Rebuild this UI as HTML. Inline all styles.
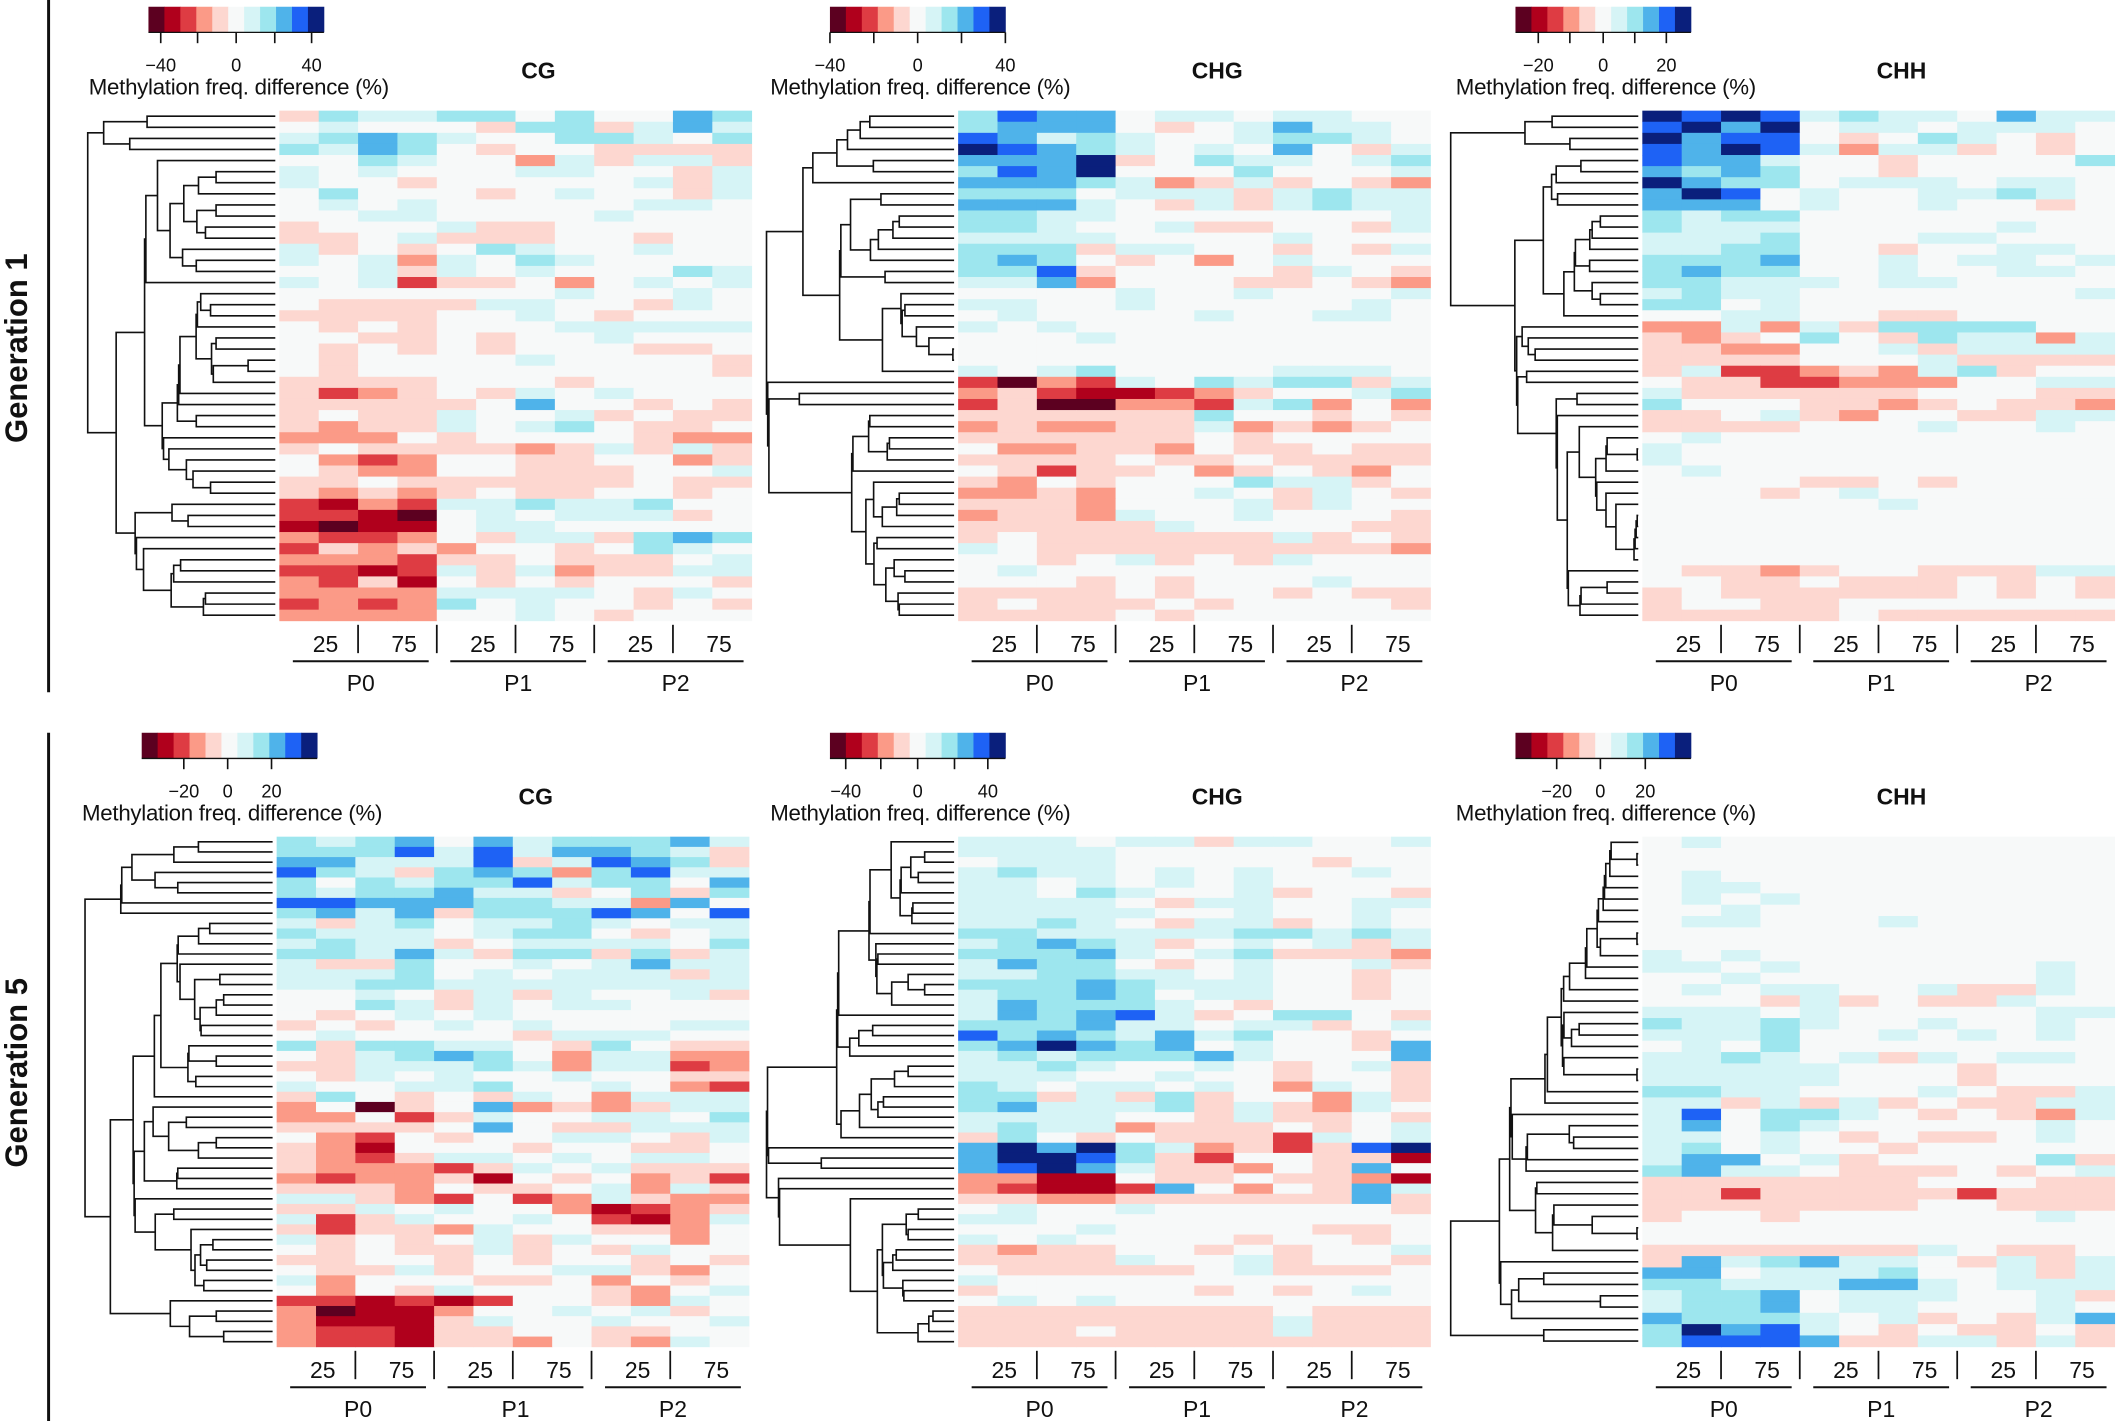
<!DOCTYPE html>
<html><head><meta charset="utf-8">
<style>
html,body{margin:0;padding:0;background:#fff;}
svg{display:block;}
text{font-family:"Liberation Sans",Arial,sans-serif;fill:#111;}
</style></head>
<body>
<svg id="fig" width="2116" height="1421" viewBox="0 0 1568 1053" xmlns="http://www.w3.org/2000/svg">
<rect x="0" y="0" width="1568" height="1053" fill="#fff"/>
<line x1="36" y1="0" x2="36" y2="513" stroke="#111" stroke-width="2.2"/>
<line x1="36" y1="543" x2="36" y2="1053" stroke="#111" stroke-width="2.2"/>
<text x="0" y="0" transform="translate(20,258) rotate(-90)" text-anchor="middle" font-size="23" font-weight="bold">Generation 1</text>
<text x="0" y="0" transform="translate(20,795) rotate(-90)" text-anchor="middle" font-size="23" font-weight="bold">Generation 5</text>
<g id="panels"></g>
</svg>
<script>
// Color scale levels -5..5 (chars a..e = -5..-1, '.' = 0, 1..5 positive)
const levelColors = ["#5c0020","#b0001c","#de3c43","#fb9a87","#fdd7d0","#f7f9f9","#d6f4f6","#9de6ee","#4fb3ea","#1e62f5","#0a1f7c"];
const columnLabels = ["25","75","25","75","25","75"];
const groupLabels = ["P0","P1","P2"];

const g1CG = [
"e21122.2..32",".1...e22e131","12321..221.2","2132.e..eeee","..21..d1e11e",
"1.1...11..e1","1..e.....1e1",".2...e.1..e1",".1.1.....11.","..11....1...",
"e...1ee.....","ee.1eee..e..","1e.e.21..1..","1.1d1.21....","..1e1.1...21",
"1.1cee.d.1.1",".......1..1.",".eeee11..e1.","eeee..1.e...",".e.e...11111",
"..ee.e..1...",".e.e.e...ee.",".e....1....e",".e.........e","eeee...e....",
"ecde.e1.1...","eeeee.3..e.e","e.ee1..1e.ee","edee1.12.ee.","ddd.e....edd",
"e.eeeede1e1e",".dcd..ee..de",".edd..eee..1","ee.eeeeee.ee","edede.ee..e.",
"cbdc112112..","ccba.1.111e.","babb.11.....","dccd.e11e232","ceded..e.21.",
"dddcee.eee.1","ccbc1e1dee11","dceb.e.e...e","dddd1111.e1.","cdcd2.1..e.e",
"dddd..1.e..."];
const g1CHG = [
"2433.11.11..","2333.e.1311.","43121..1221.","54321.1.3.e1","3335e.211.12",
"2435...2...1","33321de1e.ed","222.111e1211","3331.e1e1211","2211.......1",
"221..1ee..e1","1111....1...","222e11..e.e1","232.e.d.1...","224e....e1.e",
"113d...ee.ed","....1..1...1","11..1.....1.",".1....1..11.","1.1.........",
"...1........","............","............","1.12....111.","cadc1.2122e1",
"decbbcde..12","ceaaddc12d.d","eeeeee2..e.e","deddee1dede.","eeeeee.e....",
".ddeed.ee.ee","eeee.ee.eeee",".ecee.de.ed.","ed.e...211e.","dded..1.e1.e",
"eeed...1e1..","deed1..1...e","eeeee1....ee","e.eeeeee1e.e","1.eeeeeeeeed",
"..e.1e.e1...",".1..........","...e.e...1..","eeee.e..e.ee","e.eee.e....e",
"eeee.e......"];
const g1CHH = [
"54541211.311","4535.11.111.","5344.e.21.e.","4354 1d11e.e.".replace(" ",""),"4331..e....2",
"3232..e.....","5322.111.11.","354.1..1121.","333.1..1..e.","2122........",
"2111.....1..","1112...11...","1122..e..11.","2223..1.11.1","2322..1..11.",
"22111.11....","1211.......1","22.1........","..11..ee....","dd1d1e2222..",
"ede.2.e211d1","eedd..1e1111","eeee...1eeee","e1ccded12e..",".eeccddd..11",
"1eeeeee...ee","2...eede.eed","ee.1ed..ee11","eeee...1..1.",".1..........",
"1...........","1...........",".1..........","....ee.e....","...e.1......",
"......1.....","............","............","............","............",
"............",".eede..eee11","..ee.eee.e.e","e.eeeeee.e.e","e..ee.......",
"eeeee.eeeeee"];
const g5CG = [
"2123.3122231","222414133 21e".replace(" ","").slice(0,12),"331114e1432e","421e232d2411","2.21224122.3",
"2122311e.2e2","443332211d3.","2313e22243.4","1e12.1121.11","2111.122.e.1",
"1211e.1111.2","22131e22e2e1","1ee2..1.1311","1112.1.111e1","112211111111",
"..1.e1e1..1e","..21e1.11...",".e.1.1......","e.e.1.1...11",".1....e111..",
"2e2211.e2.ee",".e1232.d11dd","ee11121d11cd",".e1.1..1..ee","1..112..1.dc",
"e2.e.e1.d111","d.ae.3dede11","dd.ce1..11.2","eeee.3.ee111",".dc.e..11.e1",
"edb...e..ee.","edce11.1.11.","edddce1.1eee","dcddeb.e.dec","eeed.ee.1d1e",
"11edc.cd1edd","ee1.1..dbcde","1ce1..1.cbd1","eceed1..eed.","1e.e.1e1..d.",
".e.ee1e.e1..","ee..e.e..e.e",".ee1e..11ed.","1d...ee.d.e.",".d.e1...ed.1",
"ccbcbc..ed1.","dabbd..1.1e.","dbbbe1..1..1","dccbee..ee..","dccbeed.ed1."];
const g5CHG = [
"111.11e11..1","1111........",".111.....e..","1211.1.1..1.","11.1.1.1....",
"11.21..1e..e","1111.e11..11","11111..1..1.","1121.e11e.1.","221111122121",
"12321e.1.1e1","22231.12eeed","1322.e.1..1e","112211.1..e.","22232111..e.",
"12232.11..e.","132221.e....","132341e.22.e","222311.11e.1","42321312..e.",
"235323.1..e3","12122231...3","1121..1.e.1e","111..1..e..e","21.11.1.d1.e",
"22e1e2e..d1e","231112e1ed1.","1111..e1ee.e","1211deee.e.1","e2.e.eeec1.1",
"353521dece45","35542ec..eeb","34531eed.e3.","ddbb.ee.eedb","dcbbc3.d.e31",
"eeddeeeeee3e",".1..1......e","11..........","...1.....ee.","1.1....e..e.",
"edee..e.e..1","eeee1..1e..e",".eeeee.1eee.","1...........","e.....e.e.1.",
".1.1........","eeeeeeee.eee","eeeeeeee1eee","eee.eeee1eee","eeeeeeeeeeee"];
const g5CHH = [
".1..........","............","............",".1..........",".11.........",
".1.1........","..1.........",".11...1.....","............","............",
"1.1.........","11.1......1.","..1.......1.",".1.11..1ee1.","...e1e.ee1..",
"111.1.....11","21121..1..1.","1112..1.1.1.",".1.2........","1121.1e1.11.",
"11111...e...","11111...e...","2211...1.ee1","11e1e1e.ee11","14.221.e.ed1",
"13.21.....1.","11.1.e.ee.1.","12.1..e.....","133.1e....2e","2311.eee.e.1",
"eeeeeee...ee","eeceeeeeceee","eeeeeee..eee","e..e......1.","............",
"............","eeeeeee1.ee.","e312311.e1e1","33.1112..1e1","22111331.111",
"1223.111..1e","1223.11...1.","32221.1e.e13","25341.e.ee.e","24443ee11e1e"];

const NS="http://www.w3.org/2000/svg";
const root=document.getElementById('panels');
function mk(tag,attrs,parent){const e=document.createElementNS(NS,tag);for(const k in attrs)e.setAttribute(k,attrs[k]);(parent||root).appendChild(e);return e;}
function lvl(ch){if(ch>='a'&&ch<='e')return ch.charCodeAt(0)-102; if(ch>='1'&&ch<='5')return +ch; return 0;}

function dendrogram(g,rows,xLeft,xRight,y0,rh){
  const vecs=rows.map(r=>r.split('').map(lvl));
  let clusters=vecs.map((v,i)=>({members:[i],h:0,y:y0+(i+0.5)*rh,x:xRight}));
  const nodes=[];
  function dist(a,b){let s=0,n=0;for(const i of a.members)for(const j of b.members){let d=0;for(let k=0;k<12;k++){const t=(vecs[i][k]||0)-(vecs[j][k]||0);d+=t*t;}s+=Math.sqrt(d);n++;}return s/n;}
  while(clusters.length>1){
    let best=0,bd=Infinity;
    for(let i=0;i<clusters.length-1;i++){const d=dist(clusters[i],clusters[i+1]);if(d<bd){bd=d;best=i;}}
    const a=clusters[best],b=clusters[best+1];
    const h=Math.max(bd,a.h,b.h)+0.05;
    const c={members:a.members.concat(b.members),h:h,y:(a.y+b.y)/2,a:a,b:b};
    nodes.push(c);
    clusters.splice(best,2,c);
  }
  const maxH=clusters[0].h;
  const sx=h=>xRight-(h/maxH)*(xRight-xLeft);
  let d='';
  for(const c of nodes){
    const x=sx(c.h);
    const xa=c.a.h?sx(c.a.h):xRight, xb=c.b.h?sx(c.b.h):xRight;
    d+=`M${xa},${c.a.y}H${x}V${c.b.y}H${xb}`;
  }
  const p=mk('path',{d:d,fill:'none',stroke:'#111','stroke-width':1.2},g);
  
  
}

function panel(o){
  const g=mk('g',{});
  
  
  const cb=mk('g',{},g);
  
  
  const cw=130/11;
  levelColors.forEach((c,i)=>{mk('rect',{x:o.cbx+i*cw,y:o.y0-77,width:cw+0.3,height:19,fill:c},cb);});
  mk('line',{x1:o.cbx,y1:o.y0-58,x2:o.cbx+130,y2:o.y0-58,stroke:'#111','stroke-width':1},cb);
  o.ticks.forEach(f=>{mk('line',{x1:o.cbx+f*130,y1:o.y0-58,x2:o.cbx+f*130,y2:o.y0-50,stroke:'#111','stroke-width':1.2},cb);});
  o.tickLabels.forEach(t=>{const e=mk('text',{x:o.cbx+t[0]*130,y:o.y0-29,'text-anchor':'middle','font-size':13.5},cb);e.textContent=t[1];});
  const kt=mk('text',{x:o.cbx+67,y:o.y0-12,'text-anchor':'middle','font-size':16.5,'letter-spacing':'-0.2'},cb);
  kt.textContent='Methylation freq. difference (%)';
  const tt=mk('text',{x:o.x0+192,y:o.y0-24,'text-anchor':'middle','font-size':17,'font-weight':'bold'},g);
  tt.textContent=o.title;
  
  
  const W=350,H=378,cwid=W/12,rh=H/o.rows.length;
  const hm=mk('g',{},g);
  
  
  o.rows.forEach((r,i)=>{
    for(let k=0;k<12;k++){
      const v=lvl(r[k]||'.');
      const cell=mk('rect',{x:o.x0+k*cwid,y:o.y0+i*rh,width:cwid+0.3,height:rh+0.3,fill:levelColors[v+5]},hm);
      
      
    }
  });
  dendrogram(g,o.rows,o.x0-142,o.x0-3,o.y0,rh);
  const yb=o.y0+H;
  for(let k=1;k<6;k++){mk('line',{x1:o.x0+k*2*cwid,y1:yb+3,x2:o.x0+k*2*cwid,y2:yb+24,stroke:'#111','stroke-width':1.3},g);}
  columnLabels.forEach((l,k)=>{
    const e=mk('text',{x:o.x0+(2*k+1)*cwid+5,y:yb+23,'text-anchor':'middle','font-size':17},g);
    e.textContent=l;
    
    
  });
  groupLabels.forEach((l,k)=>{
    const gx=o.x0+k*4*cwid;
    mk('line',{x1:gx+10,y1:yb+30,x2:gx+4*cwid-6,y2:yb+30,stroke:'#111','stroke-width':1.5},g);
    const e=mk('text',{x:gx+2*cwid+2,y:yb+52,'text-anchor':'middle','font-size':17},g);
    e.textContent=l;
    
    
  });
}

const tk5=[[0.07,'\u221240'],[0.5,'0'],[0.93,'40']];
panel({name:'gen1-cg-panel',title:'CG',x0:207,y0:82,cbx:110,rows:g1CG,ticks:[.07,.28,.5,.72,.93],tickLabels:tk5});
panel({name:'gen1-chg-panel',title:'CHG',x0:710,y0:82,cbx:615,rows:g1CHG,ticks:[0,.25,.5,.75,1],tickLabels:[[0,'\u221240'],[.5,'0'],[1,'40']]});
panel({name:'gen1-chh-panel',title:'CHH',x0:1217,y0:82,cbx:1123,rows:g1CHH,ticks:[.13,.31,.5,.68,.86],tickLabels:[[.13,'\u221220'],[.5,'0'],[.86,'20']]});
panel({name:'gen5-cg-panel',title:'CG',x0:205,y0:620,cbx:105,rows:g5CG,ticks:[.24,.49,.74],tickLabels:[[.24,'\u221220'],[.49,'0'],[.74,'20']]});
panel({name:'gen5-chg-panel',title:'CHG',x0:710,y0:620,cbx:615,rows:g5CHG,ticks:[.09,.29,.5,.71,.9],tickLabels:[[.09,'\u221240'],[.5,'0'],[.9,'40']]});
panel({name:'gen5-chh-panel',title:'CHH',x0:1217,y0:620,cbx:1123,rows:g5CHH,ticks:[.235,.484,.74],tickLabels:[[.235,'\u221220'],[.484,'0'],[.74,'20']]});
</script>
</body></html>
